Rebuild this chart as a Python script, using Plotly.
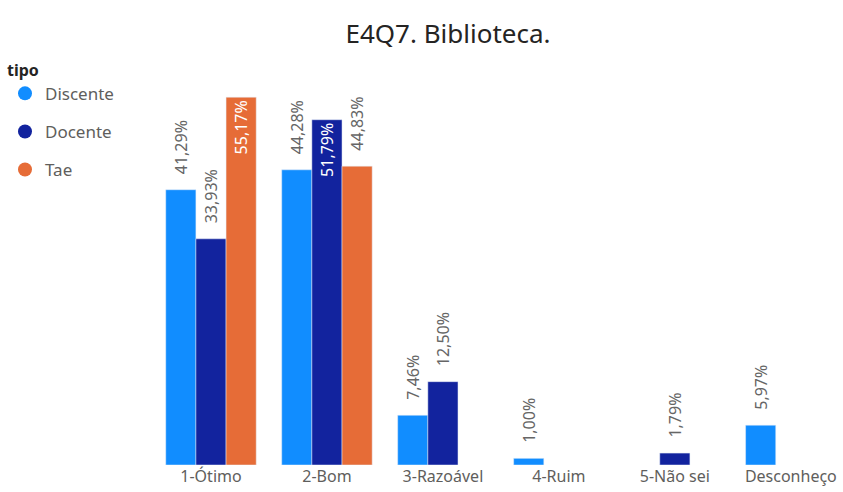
import plotly.graph_objects as go

categories = ["1-Ótimo", "2-Bom", "3-Razoável", "4-Ruim", "5-Não sei", "Desconheço"]
discente = [41.29, 44.28, 7.46, 1.00, None, 5.97]
docente = [33.93, 51.79, 12.50, None, 1.79, None]
tae = [55.17, 44.83, None, None, None, None]
series_names = ["Discente", "Docente", "Tae"]
colors = ["#118DFF", "#12239E", "#E66C37"]
title = "E4Q7. Biblioteca."
legend_title = "tipo"

FONT = "Noto Sans, DejaVu Sans, sans-serif"
NB = "\u00a0"


def fmt(v, pad):
    if v is None:
        return ""
    return (NB * pad) + f"{v:.2f}".replace(".", ",") + "%"


fig = go.Figure()
all_series = [discente, docente, tae]
for name, vals, col in zip(series_names, all_series, colors):
    positions = []
    texts = []
    for i, v in enumerate(vals):
        others = [s[i] for s in all_series if s[i] is not None]
        if v is not None and v == max(others) and v > 50:
            positions.append("inside")
            texts.append(fmt(v, 0))
        else:
            positions.append("outside")
            texts.append(fmt(v, 3))
    fig.add_trace(go.Bar(
        x=categories, y=vals, name=name, marker_color=col,
        text=texts, textposition=positions,
        textangle=-90, insidetextanchor="end", constraintext="none",
        insidetextfont=dict(family=FONT, size=16, color="white"),
        outsidetextfont=dict(family=FONT, size=16, color="#666666"),
        cliponaxis=False, showlegend=False,
    ))
    fig.add_trace(go.Scatter(
        x=[None], y=[None], mode="markers", name=name,
        marker=dict(color=col, size=14, symbol="circle"),
        legendgroup=name, showlegend=True,
    ))

fig.update_layout(
    width=843, height=492,
    margin=dict(l=153, r=0, t=65, b=27),
    paper_bgcolor="white", plot_bgcolor="white",
    barmode="group", bargap=0.22, bargroupgap=0,
    title=dict(text=title, x=448 / 843, xanchor="center", xref="container",
               y=1 - 34 / 492, yanchor="middle", yref="container",
               font=dict(family=FONT, size=26, color="#252423")),
    legend=dict(
        title=dict(text="<b>" + legend_title + "</b>",
                   font=dict(family=FONT, size=16, color="#252423")),
        font=dict(family=FONT, size=17, color="#605E5C"),
        xref="container", yref="container", x=5 / 843, y=1 - 55 / 492,
        xanchor="left", yanchor="top", tracegroupgap=13,
        itemwidth=30, bgcolor="rgba(0,0,0,0)",
    ),
    xaxis=dict(range=[-0.5, 5.45], showgrid=False, showline=False, zeroline=False,
               ticks="", tickfont=dict(family=FONT, size=16, color="#605E5C")),
    yaxis=dict(range=[0, 60], visible=False),
)

fig.write_html("out.html", config={"displayModeBar": False},
               post_script="document.body.style.margin='0';")
